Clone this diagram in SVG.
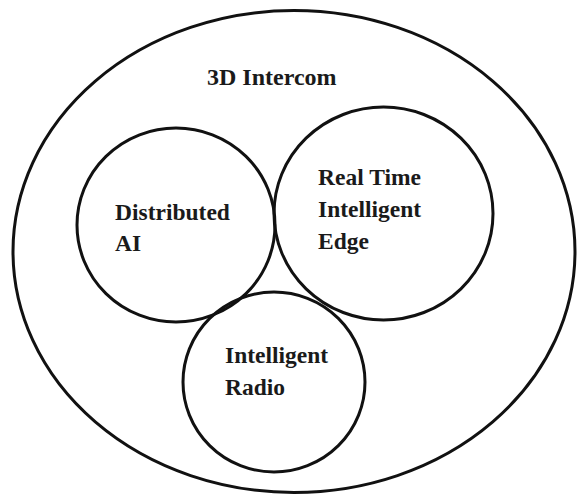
<svg xmlns="http://www.w3.org/2000/svg" width="577" height="496" viewBox="0 0 577 496">
<style>
.c{fill:none;stroke:#111;stroke-width:3}
.t{font-family:"Liberation Serif","Times New Roman",serif;font-weight:bold;font-size:23.5px;fill:#1a1a1a}
</style>
<rect width="577" height="496" fill="#fff"/>
<g id="intercom">
<ellipse class="c" cx="294" cy="251.5" rx="281" ry="241"/>
<text class="t" x="207" y="85" style="font-size:24px">3D Intercom</text>
</g>
<g id="distributed-ai">
<ellipse class="c" cx="176" cy="225" rx="99" ry="97"/>
<text class="t" x="115" y="220">Distributed</text>
<text class="t" x="115" y="251">AI</text>
</g>
<g id="edge">
<ellipse class="c" cx="383.5" cy="213.5" rx="109.5" ry="106.5"/>
<text class="t" x="318" y="185">Real Time</text>
<text class="t" x="318" y="217">Intelligent</text>
<text class="t" x="318" y="249">Edge</text>
</g>
<g id="radio">
<ellipse class="c" cx="274" cy="382" rx="91" ry="90"/>
<text class="t" x="225" y="363">Intelligent</text>
<text class="t" x="225" y="395">Radio</text>
</g>
<g id="connectors"/>
</svg>
